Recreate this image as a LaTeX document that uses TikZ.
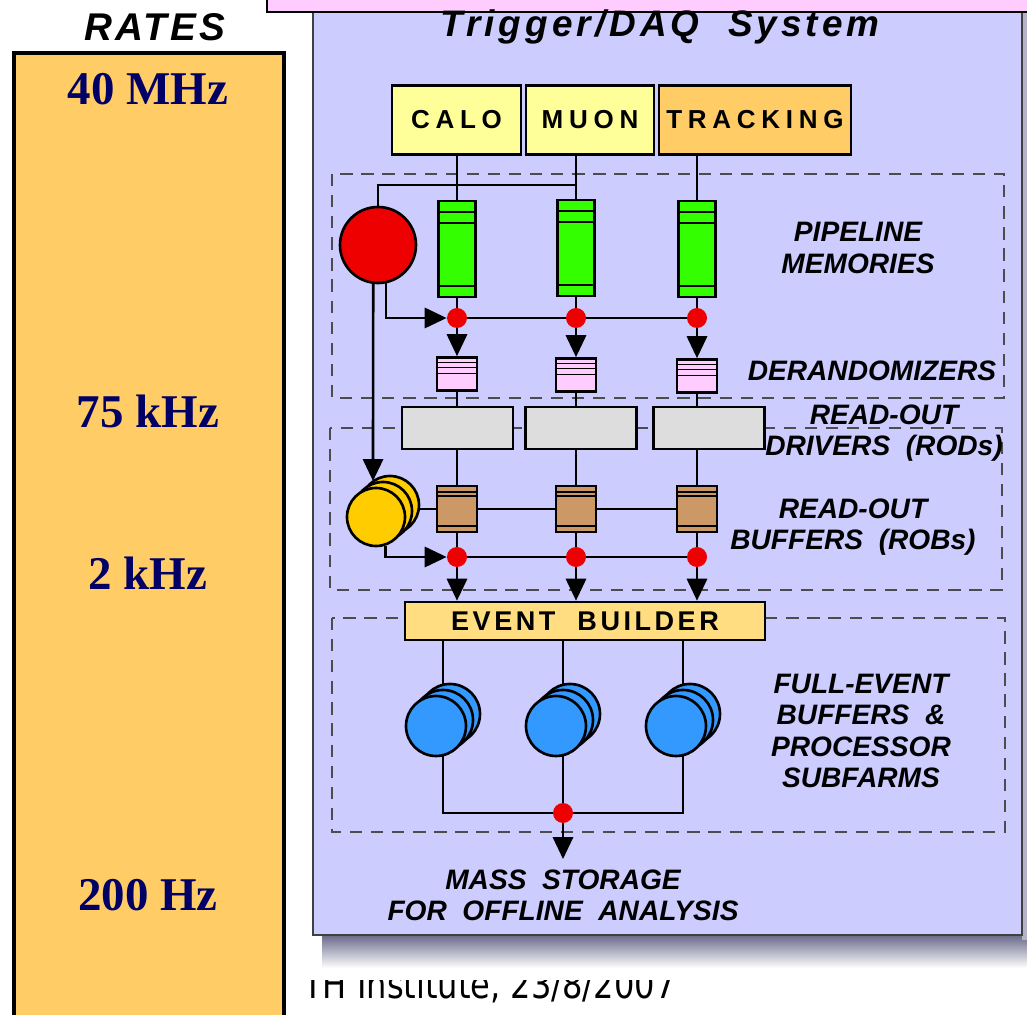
\documentclass[tikz,border=0pt]{standalone}
\usepackage{fontspec}
\usepackage{graphicx}
\setmainfont{Liberation Serif}
\setsansfont{Liberation Sans}
\newfontfamily\labfont{Liberation Sans}
\newfontfamily\boxfont[LetterSpace=22]{Liberation Sans}
\newfontfamily\ebfont[LetterSpace=13]{Liberation Sans}
\newfontfamily\titfont[LetterSpace=11]{Liberation Sans}
\newfontfamily\ratesfont[LetterSpace=8]{Liberation Sans}
\newfontfamily\notefont{DejaVu Sans}
\usepackage{tikz}
\usetikzlibrary{arrows.meta}
\usetikzlibrary{positioning}
\pgfdeclarelayer{bg}
\pgfdeclarelayer{wires}
\pgfsetlayers{bg,wires,main}

\definecolor{panelblue}{RGB}{204,204,255}
\definecolor{rateorange}{RGB}{255,204,102}
\definecolor{ratenavy}{RGB}{0,0,102}
\definecolor{banpink}{RGB}{255,204,255}
\definecolor{caloyel}{RGB}{255,255,153}
\definecolor{trkorange}{RGB}{255,204,102}
\definecolor{ebyel}{RGB}{255,221,128}
\definecolor{pipegreen}{RGB}{51,255,0}
\definecolor{derpink}{RGB}{255,204,255}
\definecolor{rodgray}{RGB}{221,221,221}
\definecolor{robbrown}{RGB}{204,153,102}
\definecolor{lvlred}{RGB}{238,0,0}
\definecolor{lvlyel}{RGB}{255,204,0}
\definecolor{farmblue}{RGB}{51,153,255}
\definecolor{shadowgray}{RGB}{105,105,140}

\tikzset{
    wire/.style={line width=1.5pt, black},
    flow/.style={
        wire,
        -{Triangle[length=12.5pt, width=11.5pt]}
    },
    frame/.style={dash pattern=on 7pt off 5pt, line width=0.9pt, black!70},
    detbox/.style={draw, line width=1.5pt, minimum height=13.8mm, inner sep=0pt,
        font={\boxfont\bfseries\fontsize{14.8}{16}\selectfont}},
    % pipeline memory with its bands
    pipemem/.style={draw, line width=1.5pt, fill=pipegreen, minimum width=7.4mm,
        minimum height=19.2mm, inner sep=0pt,
        path picture={
            \draw[line width=1pt]
            ([yshift=-2.2mm]path picture bounding box.north west) -- ([yshift=-2.2mm]path picture bounding box.north east)
            ([yshift=-4.4mm]path picture bounding box.north west) -- ([yshift=-4.4mm]path picture bounding box.north east)
            ([yshift=2.2mm]path picture bounding box.south west) -- ([yshift=2.2mm]path picture bounding box.south east);
        }},
    derand/.style={draw, line width=1.5pt, fill=derpink, minimum width=8mm,
        minimum height=6.6mm, inner sep=0pt,
        path picture={
            \draw[line width=0.8pt]
            ([yshift=-1mm]path picture bounding box.north west) -- ([yshift=-1mm]path picture bounding box.north east)
            ([yshift=-2mm]path picture bounding box.north west) -- ([yshift=-2mm]path picture bounding box.north east)
            ([yshift=-3.2mm]path picture bounding box.north west) -- ([yshift=-3.2mm]path picture bounding box.north east);
        }},
    rod/.style={draw, line width=1.5pt, fill=rodgray, minimum width=22.2mm,
        minimum height=8.4mm, inner sep=0pt},
    rob/.style={draw, line width=1.5pt, fill=robbrown, minimum width=8mm,
        minimum height=9.2mm, inner sep=0pt,
        path picture={
            \draw[line width=0.8pt]
            ([yshift=-1.2mm]path picture bounding box.north west) -- ([yshift=-1.2mm]path picture bounding box.north east)
            ([yshift=-2mm]path picture bounding box.north west) -- ([yshift=-2mm]path picture bounding box.north east)
            ([yshift=1.2mm]path picture bounding box.south west) -- ([yshift=1.2mm]path picture bounding box.south east);
        }},
    disk/.style={circle, draw, line width=1.5pt, inner sep=0pt},
    dot/.style={circle, fill=lvlred, minimum size=4mm, inner sep=0pt},
    lab/.style={align=center, inner sep=0pt,
        font={\labfont\bfseries\itshape\fontsize{16}{17.8}\selectfont}},
    rate/.style={text=ratenavy, inner sep=0pt,
        font={\rmfamily\bfseries\fontsize{26.7}{30}\selectfont}}
}

\begin{document}
\begin{tikzpicture}[x=0.2mm, y=-0.2mm]
    \useasboundingbox (0,0) rectangle (1027,1015);

    \begin{pgfonlayer}{bg}
        \draw[fill=rateorange, line width=2pt] (14,53) rectangle (284,1040);
        \shade[top color=shadowgray, bottom color=white] (322,935) rectangle (1040,968);
        \fill[shadowgray!50] (1022,10) rectangle (1040,940);
        \draw[fill=panelblue, draw=black!75, line width=1.2pt] (313,-10) rectangle (1022,935);
        \draw[fill=banpink, line width=1.6pt] (267,-30) rectangle (1040,12);
        % dashed stages
        \draw[frame] (332,174) rectangle (1004,398);
        \draw[frame] (330,428) rectangle (1002,590);
        \draw[frame] (332,618) rectangle (1005,832);
    \end{pgfonlayer}

    \node[font={\ratesfont\bfseries\itshape\fontsize{22}{24}\selectfont}, anchor=base, inner sep=0pt] (rates) at (155,41) {RATES};
    \node[rate] (r40) at (148,89) {40 MHz};
    \node[rate] (r75) at (148,411) {75 kHz};
    \node[rate] (r2) at (148,573) {2 kHz};
    \node[rate] (r200) at (148,895) {200 Hz};

    \node[font={\titfont\bfseries\itshape\fontsize{21}{23}\selectfont}, anchor=base, inner sep=0pt] (title) at (660,37) {Trigger/DAQ~~System};

    \node[detbox, fill=caloyel, minimum width=25.8mm] (calo) at (456.5,120) {CALO};
    \node[detbox, fill=caloyel, minimum width=25.6mm] (muon) at (590,120) {MUON};
    \node[detbox, fill=trkorange, minimum width=38.4mm] (track) at (755,120) {TRACKING};

    \node[disk, fill=lvlred, minimum size=15.2mm] (l1) at (378,245) {};
    \path (576,185) coordinate (j1)
          (373,481) coordinate (l2top)
          (443,813) coordinate (fb1)
          (683,813) coordinate (fb3);

    \node[pipemem] (pipe1) at (457,249) {};
    \node[pipemem] (pipe2) at (576,248) {};
    \node[pipemem] (pipe3) at (697,249) {};
    \node[dot] (d1) at (457,318) {};
    \node[dot] (d2) at (576,318) {};
    \node[dot] (d3) at (697,318) {};
    \node[derand] (der1) at (457,374) {};
    \node[derand] (der2) at (576,375) {};
    \node[derand] (der3) at (697,376) {};
    \node[rod] (rod1) at (457.5,428) {};
    \node[rod] (rod2) at (581,428) {};
    \node[rod] (rod3) at (709,428) {};
    \node[rob] (rob1) at (457,509) {};
    \node[rob] (rob2) at (576,509) {};
    \node[rob] (rob3) at (697,509) {};

    \node[disk, fill=lvlyel, minimum size=11.6mm] (l2c) at (390,505) {};
    \node[disk, fill=lvlyel, minimum size=11.6mm] (l2b) at (383,511) {};
    \node[disk, fill=lvlyel, minimum size=11.6mm] (l2) at (376,517) {};

    \node[dot] (d4) at (457,557) {};
    \node[dot] (d5) at (576,557) {};
    \node[dot] (d6) at (697,557) {};

    \node[draw, line width=1.5pt, fill=ebyel, minimum width=72mm, minimum height=7.6mm, inner sep=0pt,
        font={\ebfont\bfseries\fontsize{15.4}{17}\selectfont}] (eb) at (585,621) {EVENT~~BUILDER};

    \node[disk, fill=farmblue, minimum size=12mm] (farm1c) at (450,714) {};
    \node[disk, fill=farmblue, minimum size=12mm] (farm1b) at (443,720) {};
    \node[disk, fill=farmblue, minimum size=12mm] (farm1) at (436,726) {};
    \node[disk, fill=farmblue, minimum size=12mm] (farm2c) at (570,714) {};
    \node[disk, fill=farmblue, minimum size=12mm] (farm2b) at (563,720) {};
    \node[disk, fill=farmblue, minimum size=12mm] (farm2) at (556,726) {};
    \node[disk, fill=farmblue, minimum size=12mm] (farm3c) at (690,714) {};
    \node[disk, fill=farmblue, minimum size=12mm] (farm3b) at (683,720) {};
    \node[disk, fill=farmblue, minimum size=12mm] (farm3) at (676,726) {};
    \node[dot] (d7) at (563,813) {};

    \node[lab] (lpipe) at (858,248) {PIPELINE\\MEMORIES};
    \node[lab] (lder) at (872,371) {DERANDOMIZERS};
    \node[lab] (lrod) at (884,433) {READ-OUT\\DRIVERS~~(RODs)};
    \node[lab] (lrob) at (853,527) {READ-OUT\\BUFFERS~~(ROBs)};
    \node[lab] (lfarm) at (861,731) {FULL-EVENT\\BUFFERS~~\&\\PROCESSOR\\SUBFARMS};
    \node[lab, inner sep=2mm] (store) at (563,895) {MASS~~STORAGE\\FOR~~OFFLINE~~ANALYSIS};

    \begin{scope}
        \clip (290,980) rectangle (720,1015);
        \node[anchor=base west, inner sep=0pt, font={\notefont\fontsize{22}{24}\selectfont}] (note) at (303,998)
            {\scalebox{0.83}[1]{TH Institute, 23/8/2007}};
    \end{scope}

    \begin{pgfonlayer}{wires}
        \draw[wire] (calo.south -| pipe1) -- (pipe1) -- (d1);
        \draw[wire] (muon.south -| pipe2) -- (pipe2) -- (d2);
        \draw[wire] (track.south -| pipe3) -- (pipe3) -- (d3);
        \draw[wire] (l1.center) |- (j1);
        \draw[flow] (l1.-78) |- (d1);
        \draw[wire] (d1) -- (d3);
        \draw[flow] (d1) -- (der1);
        \draw[flow] (d2) -- (der2);
        \draw[flow] (d3) -- (der3);
        \draw[wire] (der1) -- (rob1) -- (d4);
        \draw[wire] (der2) -- (rob2) -- (d5);
        \draw[wire] (der3) -- (rob3) -- (d6);
        \draw[flow] (l1.-97) -- (l2top);
        \draw[wire] (rob1 -| l2) -- (rob3);
        \draw[flow] (l2.-72) |- (d4);
        \draw[wire] (d4) -- (d6);
        \draw[flow] (d4) -- (d4 |- eb.north);
        \draw[flow] (d5) -- (d5 |- eb.north);
        \draw[flow] (d6) -- (d6 |- eb.north);
        \draw[wire] (eb.south -| fb1) -- (fb1) -- (fb3) -- (eb.south -| fb3);
        \draw[wire] (eb.south -| d7) -- (d7);
        \draw[flow] (d7) -- (store);
    \end{pgfonlayer}
\end{tikzpicture}
\end{document}
